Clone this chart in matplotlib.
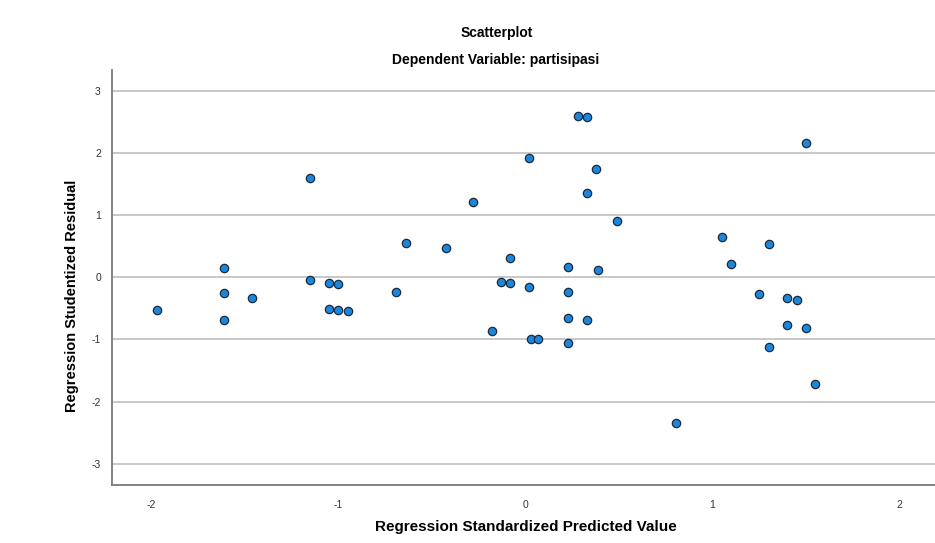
import matplotlib
matplotlib.use("Agg")
import matplotlib.pyplot as plt

pred_std = [-1.15, -0.278, -1.61, -0.64, -0.426, -0.08, -1.15, -1.05, -1.00, -1.61,
            -1.46, -0.69, -0.13, -0.08, -1.97, -1.61, -1.05, -1.00, -0.95, -0.178,
            0.28, 0.33, 1.50, 0.02, 0.38, 0.33, 0.49, 1.05, 1.30, 0.23,
            0.39, 1.10, 0.02, 0.23, 1.25, 1.40, 1.45, 0.23, 0.33, 0.03,
            0.07, 0.23, 1.40, 1.50, 1.30, 1.55, 0.806]
resid_stud = [1.60, 1.21, 0.155, 0.55, 0.47, 0.305, -0.05, -0.087, -0.108, -0.26,
              -0.33, -0.24, -0.08, -0.10, -0.53, -0.68, -0.51, -0.526, -0.55, -0.87,
              2.59, 2.57, 2.16, 1.91, 1.74, 1.35, 0.905, 0.65, 0.53, 0.165,
              0.11, 0.21, -0.15, -0.24, -0.27, -0.34, -0.365, -0.65, -0.69, -1.00,
              -1.00, -1.05, -0.76, -0.82, -1.12, -1.72, -2.34]
x_ticks = [-2, -1, 0, 1, 2]
y_ticks = [-3, -2, -1, 0, 1, 2, 3]

plt.rcParams['font.family'] = ['Liberation Sans', 'DejaVu Sans']
plt.rcParams['axes.unicode_minus'] = False

fig = plt.figure(figsize=(9.35, 5.43), dpi=100)
ax = fig.add_axes([112 / 935, 1 - 484.5 / 543, 1 - 112 / 935, (484.5 - 70) / 543])

ax.set_xlim(-2.21, 2.19)
ax.set_ylim(-3.33, 3.33)
ax.set_xticks(x_ticks)
ax.set_yticks(y_ticks)
ax.tick_params(axis='both', length=0, labelsize=7.5, colors='#333333')
ax.tick_params(axis='y', pad=8)
ax.tick_params(axis='x', pad=11)

ax.yaxis.grid(True, color='#c8c8c8', linewidth=1.4)
ax.xaxis.grid(False)
ax.set_axisbelow(True)

for s in ['top', 'right']:
    ax.spines[s].set_visible(False)
for s in ['left', 'bottom']:
    ax.spines[s].set_color('#7a7a7a')
    ax.spines[s].set_linewidth(1.3)

ax.scatter(pred_std, resid_stud, s=36, c='#1a86dc', edgecolors='#1c2a3a',
           linewidths=0.9, zorder=3)

fig.text(497 / 935, 1 - 33 / 543, 'Scatterplot', ha='center', va='center',
         fontsize=10, fontweight='bold')
fig.text(496 / 935, 1 - 60 / 543, 'Dependent Variable: partisipasi', ha='center',
         va='center', fontsize=10, fontweight='bold')
fig.text(526 / 935, 1 - 527 / 543, 'Regression Standardized Predicted Value',
         ha='center', va='center', fontsize=11, fontweight='bold')
fig.text(72 / 935, 1 - 296 / 543, 'Regression Studentized Residual', ha='center',
         va='center', rotation=90, fontsize=10.5, fontweight='bold')

fig.savefig('out.png', dpi=100, facecolor='white')
